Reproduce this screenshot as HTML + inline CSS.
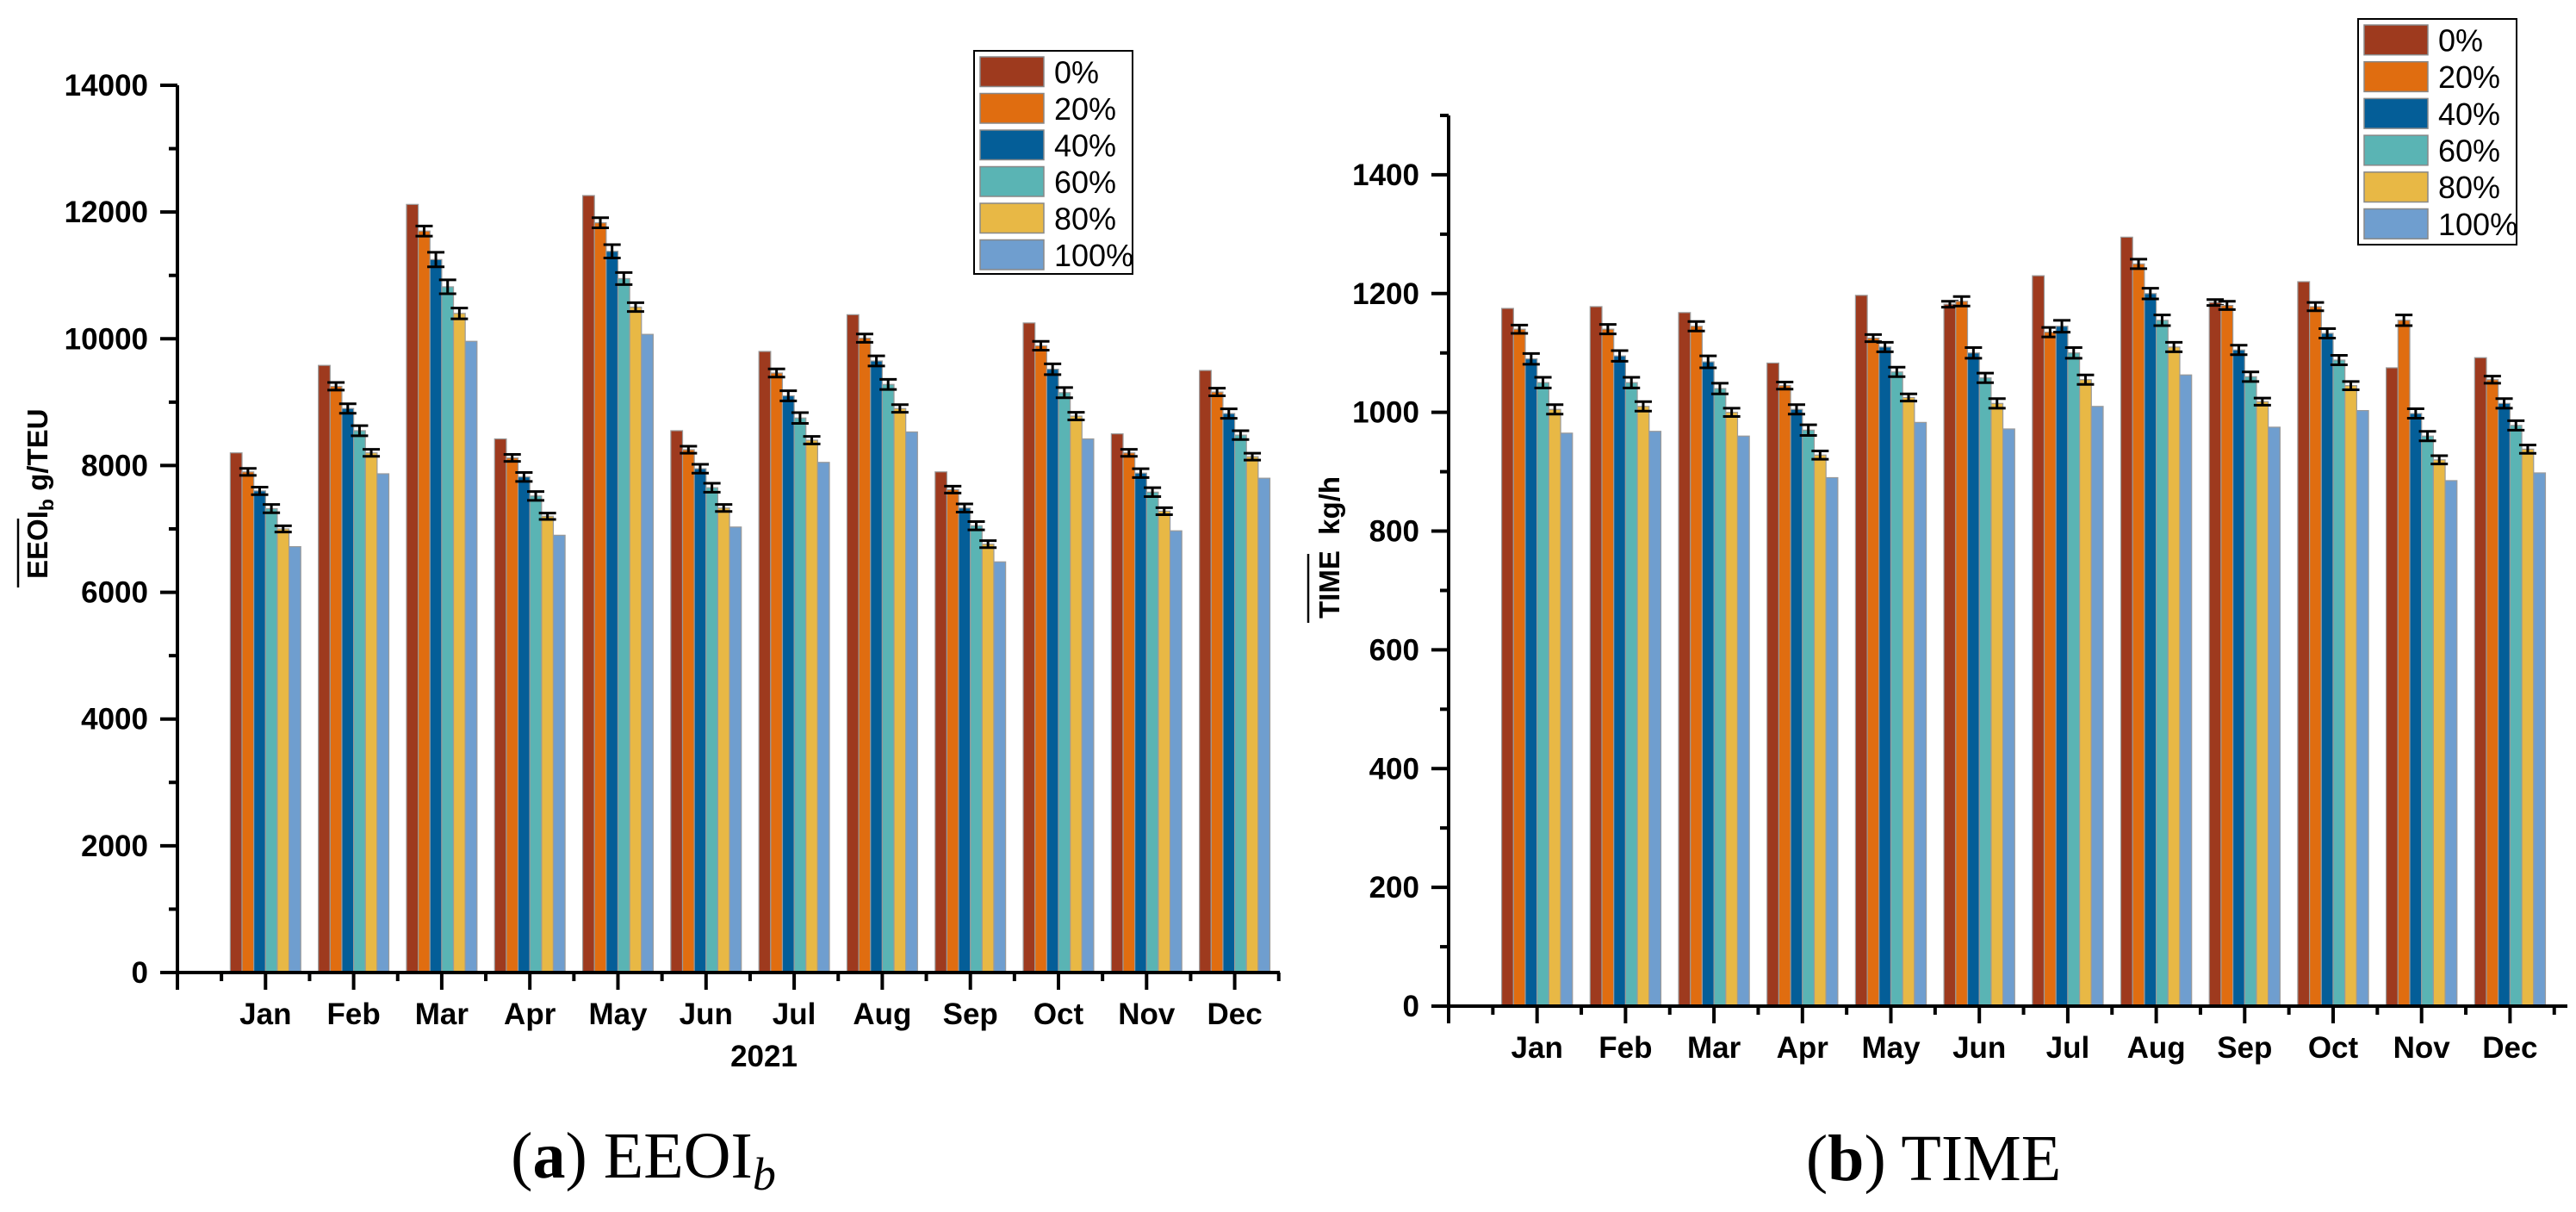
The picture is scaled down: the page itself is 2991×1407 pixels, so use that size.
<!DOCTYPE html>
<html><head><meta charset="utf-8"><style>
html,body{margin:0;padding:0;background:#fff;}
svg{display:block;}
text{font-family:"Liberation Sans",Arial,sans-serif;}
.tk{font-weight:bold;font-size:35px;}
.lg{font-size:36px;}
.cap{font-family:"Liberation Serif",serif;font-size:76px;}
</style></head><body>
<svg id="fig" width="2991" height="1407" viewBox="0 0 2991 1407" xmlns="http://www.w3.org/2000/svg">
<g id="chartA"></g>
<g id="chartB"></g>
<text class="cap" x="747" y="1367" text-anchor="middle">(<tspan font-weight="bold">a</tspan>) EEOI<tspan font-style="italic" font-size="54" dy="14">b</tspan></text>
<text class="cap" x="2245" y="1370" text-anchor="middle">(<tspan font-weight="bold">b</tspan>) TIME</text>
<text transform="translate(55,672) rotate(-90)" font-weight="bold" font-size="33">EEOI<tspan font-size="23" dy="7">b</tspan><tspan dy="-7"> g/TEU</tspan></text>
<line x1="21" x2="21" y1="602" y2="682" stroke="#000" stroke-width="2.5"/>
<text transform="translate(1555,718) rotate(-90)" font-weight="bold" font-size="33" xml:space="preserve">TIME  kg/h</text>
<line x1="1519" x2="1519" y1="643" y2="723" stroke="#000" stroke-width="2.5"/>
<text x="887" y="1238" text-anchor="middle" class="tk">2021</text>
</svg>
<script>
const months = ["Jan","Feb","Mar","Apr","May","Jun","Jul","Aug","Sep","Oct","Nov","Dec"];
const seriesNames = ["0%","20%","40%","60%","80%","100%"];
const colors = ["#9E3A1E","#E06D10","#045E98","#5AB4B4","#E8B845","#6F9ECF"];

const eeoi0   = [8200,9580,12120,8420,12260,8550,9800,10380,7900,10250,8500,9500];
const eeoi20  = [7900,9250,11700,8120,11830,8250,9460,10010,7620,9890,8200,9160];
const eeoi40  = [7600,8900,11250,7820,11380,7950,9100,9650,7330,9520,7880,8820];
const eeoi60  = [7320,8550,10820,7520,10950,7650,8750,9280,7050,9150,7580,8480];
const eeoi80  = [7000,8200,10400,7200,10500,7330,8400,8900,6760,8780,7280,8140];
const eeoi100 = [6720,7870,9960,6900,10070,7030,8050,8530,6480,8420,6970,7800];
const eeoiErr20 = [55,60,80,55,80,55,65,65,55,70,55,60];
const eeoiErr40 = [60,75,115,70,105,70,80,80,65,85,70,75];
const eeoiErr60 = [65,80,110,70,95,70,85,80,65,80,70,70];
const eeoiErr80 = [50,55,85,50,70,55,60,60,55,60,55,55];
const eeoiTicks = [0,2000,4000,6000,8000,10000,12000,14000];

const time0   = [1175,1178,1168,1083,1197,1182,1230,1295,1185,1220,1075,1092];
const time20  = [1140,1140,1145,1045,1125,1187,1135,1250,1180,1178,1155,1055];
const time40  = [1090,1095,1085,1005,1110,1100,1145,1200,1105,1133,998,1015];
const time60  = [1050,1050,1040,970,1068,1058,1100,1155,1060,1088,960,978];
const time80  = [1005,1010,1000,928,1025,1015,1055,1110,1018,1045,920,938];
const time100 = [965,968,960,890,983,972,1010,1063,975,1003,885,898];
const timeErr0  = [0,0,0,0,0,5,0,0,5,0,0,0];
const timeErr20 = [7,8,8,6,6,8,8,8,7,7,9,6];
const timeErr40 = [9,9,10,8,8,9,10,9,8,8,8,8];
const timeErr60 = [9,9,9,9,8,8,9,9,8,8,8,8];
const timeErr80 = [8,8,7,7,6,8,8,8,6,7,7,7];
const timeTicks = [0,200,400,600,800,1000,1200,1400];

const NS="http://www.w3.org/2000/svg";
function mk(tag,attrs,parent){const e=document.createElementNS(NS,tag);for(const k in attrs)e.setAttribute(k,attrs[k]);parent.appendChild(e);return e;}

function drawChart(g, cfg){
  const x0=cfg.x0, y0=cfg.y0, step=cfg.step, yMax=cfg.yMax, yTop=cfg.yTop, xEnd=cfg.xEnd;
  const ys = v => y0 - (v/yMax)*(y0-yTop);
  const xs = i => x0 + (i+1)*step;
  const bw = step*0.8/6;
  cfg.series.forEach((vals,s)=>{
    vals.forEach((v,i)=>{
      const bx = xs(i) - step*0.4 + s*bw;
      const r = mk('rect',{x:bx,y:ys(v),width:bw,height:y0-ys(v),fill:colors[s],stroke:'#9a9a9a','stroke-width':1.2},g);
      
      
      const e = cfg.errs[s] ? cfg.errs[s][i] : 0;
      if(e>0){
        const cx=bx+bw/2, hw=10;
        const eb=mk('path',{d:`M${cx},${ys(v+e)}V${ys(v-e)}M${cx-hw},${ys(v+e)}H${cx+hw}M${cx-hw},${ys(v-e)}H${cx+hw}`,stroke:'#000','stroke-width':3,fill:'none'},g);
        
        
      }
    });
  });
  const ax=mk('path',{d:`M${x0},${yTop}V${y0}H${xEnd}`,stroke:'#000','stroke-width':4,fill:'none'},g);
  
  
  cfg.ticks.forEach((t,k)=>{
    const y=ys(t);
    mk('line',{x1:x0-20,x2:x0,y1:y,y2:y,stroke:'#000','stroke-width':4},g);
    const lbl=mk('text',{x:x0-34,y:y+12,'text-anchor':'end',class:'tk'},g);
    lbl.textContent=t;
    
    
    const m=t+(cfg.ticks[1]-cfg.ticks[0])/2;
    if(m<=yMax) mk('line',{x1:x0-10,x2:x0,y1:ys(m),y2:ys(m),stroke:'#000','stroke-width':4},g);
  });
  for(let i=0;i<=12;i++){
    const x=x0+i*step;
    mk('line',{x1:x,x2:x,y1:y0,y2:y0+20,stroke:'#000','stroke-width':4},g);
    if(x+step/2<xEnd) mk('line',{x1:x+step/2,x2:x+step/2,y1:y0,y2:y0+10,stroke:'#000','stroke-width':4},g);
  }
  months.forEach((m,i)=>{
    const lbl=mk('text',{x:xs(i),y:cfg.labY,'text-anchor':'middle',class:'tk'},g);
    lbl.textContent=m;
    
    
  });
  const L=cfg.leg;
  const lb=mk('rect',{x:L.x,y:L.y,width:184,height:L.h,fill:'#fff',stroke:'#000','stroke-width':2},g);
  
  
  seriesNames.forEach((n,s)=>{
    const sy=L.y+7+s*L.sp;
    const sw=mk('rect',{x:L.x+7,y:sy,width:74,height:L.sp-8,fill:colors[s],stroke:'#888','stroke-width':1.5},g);
    
    
    const t=mk('text',{x:L.x+93,y:sy+(L.sp-8)/2+13,class:'lg'},g);
    t.textContent=n;
    
    
  });
}

drawChart(document.getElementById('chartA'),{
  x0:206,y0:1129,step:102.3,yMax:14000,yTop:99,xEnd:1486,labY:1189,
  series:[eeoi0,eeoi20,eeoi40,eeoi60,eeoi80,eeoi100],
  errs:[null,eeoiErr20,eeoiErr40,eeoiErr60,eeoiErr80,null],
  ticks:eeoiTicks,
  leg:{x:1131,y:59,h:259,sp:42.5}
});
drawChart(document.getElementById('chartB'),{
  x0:1682,y0:1168,step:102.7,yMax:1500,yTop:134,xEnd:2981,labY:1228,
  series:[time0,time20,time40,time60,time80,time100],
  errs:[timeErr0,timeErr20,timeErr40,timeErr60,timeErr80,null],
  ticks:timeTicks,
  leg:{x:2738,y:22,h:262,sp:42.7}
});
</script>
</body></html>
